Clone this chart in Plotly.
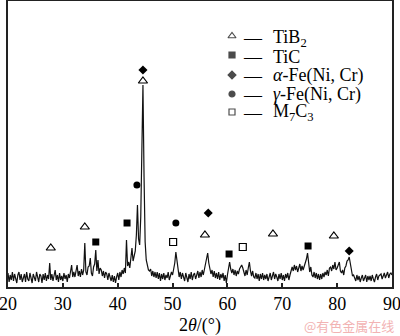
import numpy as np
import plotly.graph_objects as go

# ---- XRD pattern: 2theta from 20 to 90 deg, step 0.2 deg (5 points per degree) ----
two_theta_start = 20.0
two_theta_step = 0.2
intensity = [
    # 20 - 29
    14, 5, 12, 7, 15,
    6, 13, 9, 4, 12,
    15, 7, 13, 5, 11,
    13, 5, 15, 8, 6,
    14, 7, 4, 13, 9,
    6, 15, 9, 5, 13,
    11, 4, 13, 7, 14,
    6, 12, 8, 24, 7,
    13, 6, 11, 17, 7,
    12, 5, 14, 7, 11,
    # 30 - 39
    6, 14, 8, 12, 5,
    13, 9, 15, 22, 10,
    15, 10, 17, 22, 11,
    16, 10, 18, 12, 17,
    44, 15, 12, 20, 21,
    29, 14, 11, 20, 23,
    37, 16, 27, 13, 19,
    17, 11, 16, 9, 15,
    13, 7, 14, 9, 6,
    12, 5, 11, 4, 10,
    # 40 - 49
    14, 7, 15, 10, 17,
    13, 19, 14, 47, 21,
    25, 19, 29, 39, 26,
    31, 36, 52, 82, 48,
    42, 70, 140, 202, 110,
    45, 27, 20, 17, 16,
    18, 11, 16, 10, 15,
    9, 15, 8, 14, 6,
    13, 8, 14, 7, 12,
    9, 15, 7, 13, 15,
    # 50 - 59
    12, 18, 24, 35, 26,
    15, 10, 15, 8, 14,
    10, 6, 14, 8, 5,
    13, 8, 15, 7, 12,
    14, 8, 13, 16, 9,
    15, 10, 17, 12, 18,
    20, 27, 34, 24, 16,
    13, 17, 10, 16, 9,
    14, 8, 15, 7, 13,
    9, 14, 6, 12, 4,
    # 60 - 69
    12, 17, 25, 18, 14,
    18, 12, 17, 11, 16,
    13, 18, 20, 22, 19,
    14, 11, 17, 12, 19,
    25, 16, 11, 16, 10,
    9, 14, 8, 13, 6,
    13, 8, 14, 7, 12,
    8, 13, 6, 12, 14,
    7, 13, 15, 8, 13,
    10, 6, 13, 8, 14,
    # 70 - 79
    7, 12, 6, 13, 9,
    14, 7, 12, 15, 20,
    16, 22, 17, 21, 15,
    20, 23, 16, 21, 17,
    20, 24, 28, 34, 22,
    15, 20, 12, 10, 15,
    9, 14, 8, 13, 7,
    13, 8, 14, 10, 15,
    12, 17, 11, 19, 20,
    16, 22, 18, 25, 17,
    # 80 - 90
    19, 23, 25, 16, 14,
    17, 12, 19, 21, 26,
    27, 30, 22, 14, 11,
    12, 8, 6, 12, 7,
    11, 5, 9, 12, 6,
    10, 12, 5, 11, 7,
    11, 6, 12, 8, 5,
    10, 13, 7, 11, 12,
    13, 8, 12, 14, 9,
    12, 15, 9, 13, 14,
    12,
]
two_theta = two_theta_start + two_theta_step * np.arange(len(intensity))

# ---- phase markers placed above the diffraction peaks ----
tib2_x = [27.8, 34.0, 44.6, 55.9, 68.3, 79.4]
tib2_y = [39, 60, 206, 52, 53, 51]
tic_x = [36.0, 41.7, 60.3, 74.7]
tic_y = [45, 64, 33, 41]
afe_x = [44.6, 56.5, 82.2]
afe_y = [217, 74, 36]
gfe_x = [43.5, 50.6]
gfe_y = [102, 64]
m7c3_x = [50.1, 62.8]
m7c3_y = [45, 40]

phase_names = [
    "TiB<sub>2</sub>",
    "TiC",
    "<i>α</i>-Fe(Ni, Cr)",
    "<i>γ</i>-Fe(Ni, Cr)",
    "M<sub>7</sub>C<sub>3</sub>",
]
x_ticks = [20, 30, 40, 50, 60, 70, 80, 90]

SERIF = "Liberation Serif, Times New Roman, serif"
W, H = 400, 336
ML, MR, MT, MB = 8, 8, 1, 49
PW, PH = W - ML - MR, H - MT - MB

def px_to_paper(px, py):
    return (px - ML) / PW, (H - MB - py) / PH

marker_styles = [
    dict(symbol="triangle-up-open", size=8, color="black", line=dict(width=1.2, color="black")),
    dict(symbol="square", size=7, color="black"),
    dict(symbol="diamond", size=7, color="black"),
    dict(symbol="circle", size=7, color="black"),
    dict(symbol="square-open", size=7, color="black", line=dict(width=1.2, color="black")),
]
phase_xy = [(tib2_x, tib2_y), (tic_x, tic_y), (afe_x, afe_y), (gfe_x, gfe_y), (m7c3_x, m7c3_y)]

fig = go.Figure()
fig.add_trace(go.Scatter(x=two_theta, y=intensity, mode="lines",
                         line=dict(color="#111111", width=1.2), showlegend=False, hoverinfo="skip"))
for (xs, ys), style, name in zip(phase_xy, marker_styles, phase_names):
    fig.add_trace(go.Scatter(x=xs, y=ys, mode="markers", marker=style, name=name, showlegend=False))

# ---- key: symbol, dash and phase name per row ----
key_x = 232
key_rows_y = [36, 55, 75, 94, 112]
text_rows_y = [38, 57, 76, 95, 113]
key_px = [px_to_paper(key_x, y) for y in key_rows_y]
fig.add_trace(go.Scatter(
    x=[p[0] for p in key_px], y=[p[1] for p in key_px], mode="markers",
    xaxis="x2", yaxis="y2", showlegend=False, hoverinfo="skip",
    marker=dict(
        symbol=[s["symbol"] for s in marker_styles], size=[s["size"] - 1 for s in marker_styles],
        color="black", line=dict(width=1.2, color="black"),
    ),
))

annotations = []
for name, ty in zip(phase_names, text_rows_y):
    dx, dy = px_to_paper(252.5, ty)
    annotations.append(dict(x=dx, y=dy, xref="paper", yref="paper", text="—", showarrow=False,
                            xanchor="center", yanchor="middle", font=dict(family=SERIF, size=18, color="black")))
    tx, _ = px_to_paper(271, ty)
    annotations.append(dict(x=tx, y=dy, xref="paper", yref="paper", text=name, showarrow=False,
                            xanchor="left", yanchor="middle", font=dict(family=SERIF, size=18, color="black")))

# axis title
ax, ay = px_to_paper(200, 325)
annotations.append(dict(x=ax, y=ay, xref="paper", yref="paper", text="2<i>θ</i>/(°)", showarrow=False,
                        xanchor="center", yanchor="middle", font=dict(family=SERIF, size=18, color="black")))
# site mark
wx, wy = px_to_paper(396, 326)
annotations.append(dict(x=wx, y=wy, xref="paper", yref="paper", text="@有色金属在线", showarrow=False,
                        xanchor="right", yanchor="middle",
                        font=dict(family="Noto Sans CJK SC", size=13, color="#f2b3b3")))

fig.update_layout(
    width=W, height=H,
    margin=dict(l=ML, r=MR, t=MT, b=MB, pad=0),
    paper_bgcolor="white", plot_bgcolor="white",
    showlegend=False,
    annotations=annotations,
    xaxis=dict(range=[20, 90], tickvals=x_ticks, ticks="inside", ticklen=4, tickwidth=1.5,
               tickcolor="#222", showline=True, linecolor="#222", linewidth=1.5, mirror=True,
               showgrid=False, zeroline=False, automargin=False, ticklabeloverflow="allow",
               tickfont=dict(family=SERIF, size=18, color="black")),
    yaxis=dict(range=[0, PH], showticklabels=False, ticks="", showline=True, linecolor="#222",
               linewidth=1.5, mirror=True, showgrid=False, zeroline=False, automargin=False),
    xaxis2=dict(overlaying="x", range=[0, 1], visible=False),
    yaxis2=dict(overlaying="y", range=[0, 1], visible=False),
)

fig.write_html("out.html")
